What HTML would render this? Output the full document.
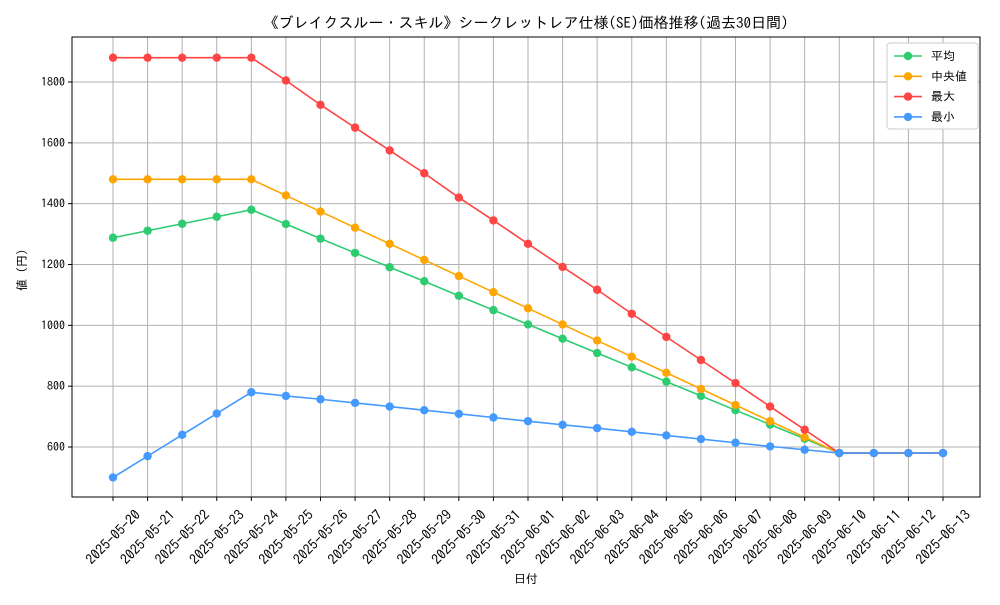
<!DOCTYPE html>
<html><head><meta charset="utf-8"><style>
body{margin:0;background:#fff;}
svg{font-family:"IPAGothic","Noto Sans CJK JP",sans-serif;}
</style></head><body>
<svg id="chart" width="1000" height="600">
<rect width="1000" height="600" fill="#fff"/>
<text x="526" y="28" text-anchor="middle" font-size="15">《ブレイクスルー・スキル》シークレットレア仕様(SE)価格推移(過去30日間)</text>
<g id="grid"></g><g id="axes"></g><g id="series"></g>
<rect x="72" y="37" width="908" height="460" fill="none" stroke="#000" stroke-width="1"/>
<text x="526" y="583" text-anchor="middle" font-size="12">日付</text>
<text x="26" y="267" text-anchor="middle" font-size="12" transform="rotate(-90 26 267)">値（円）</text>
<g id="legend"></g>
</svg>
<script>
const dates=["2025-05-20","2025-05-21","2025-05-22","2025-05-23","2025-05-24","2025-05-25","2025-05-26","2025-05-27","2025-05-28","2025-05-29","2025-05-30","2025-05-31","2025-06-01","2025-06-02","2025-06-03","2025-06-04","2025-06-05","2025-06-06","2025-06-07","2025-06-08","2025-06-09","2025-06-10","2025-06-11","2025-06-12","2025-06-13"];
const avgVals=[1288,1311,1334,1357,1380,1333,1285,1238,1191,1145,1097,1050,1003,956,909,862,815,768,721,674,627,580,580,580,580];
const medVals=[1480,1480,1480,1480,1480,1427,1374,1321,1268,1215,1162,1109,1056,1003,950,897,844,791,738,685,632,580,580,580,580];
const maxVals=[1880,1880,1880,1880,1880,1805,1725,1650,1575,1500,1420,1345,1268,1192,1117,1038,962,886,810,733,657,580,580,580,580];
const minVals=[500,570,640,710,780,768,757,745,733,721,709,697,685,673,662,650,638,626,614,602,591,580,580,580,580];
const yTicks=[600,800,1000,1200,1400,1600,1800];
const seriesNames=["平均","中央値","最大","最小"];
const NS="http://www.w3.org/2000/svg";
const x=i=>113+i*(943-113)/(dates.length-1);
const y=v=>447-(v-600)*(447-82)/1200;
function mk(t,a,p){const e=document.createElementNS(NS,t);for(const k in a)e.setAttribute(k,a[k]);p.appendChild(e);return e;}
const grid=document.getElementById('grid'),axes=document.getElementById('axes'),ser=document.getElementById('series'),leg=document.getElementById('legend');
dates.forEach((d,i)=>{
 const l=mk('line',{x1:x(i),x2:x(i),y1:37,y2:497,stroke:'#b0b0b0','stroke-width':1},grid);
 
 mk('line',{x1:x(i),x2:x(i),y1:497,y2:501,stroke:'#000'},axes);
 const cx=x(i),cy=537;
 const t=mk('text',{x:cx,y:cy+5,'font-size':14,'text-anchor':'middle',transform:`rotate(-45 ${cx} ${cy})`},axes);
 t.textContent=d;
 
});
yTicks.forEach(v=>{
 const l=mk('line',{x1:72,x2:980,y1:y(v),y2:y(v),stroke:'#b0b0b0','stroke-width':1},grid);
 
 mk('line',{x1:68,x2:72,y1:y(v),y2:y(v),stroke:'#000'},axes);
 const t=mk('text',{x:65,y:y(v)+4,'font-size':12,'text-anchor':'end'},axes);
 t.textContent=v;
 
});
const all=[avgVals,medVals,maxVals,minVals],cols=["#2ecc71","#ffa500","#ff4444","#4499ff"],keys=["avg","median","max","min"];
all.forEach((vals,s)=>{
 const g=mk('g',{},ser);
 
 const p=mk('polyline',{points:vals.map((v,i)=>x(i)+','+y(v)).join(' '),fill:'none',stroke:cols[s],'stroke-width':1.6},g);
 
 vals.forEach((v,i)=>{const c=mk('circle',{cx:x(i),cy:y(v),r:4.2,fill:cols[s]},g);
  });
});
mk('rect',{x:887,y:43,width:91,height:86,rx:3,fill:'#fff',stroke:'#ccc'},leg);
seriesNames.forEach((n,s)=>{
 const yy=56+s*20.3;
 const g=mk('g',{},leg);
 
 mk('line',{x1:894,x2:922,y1:yy,y2:yy,stroke:cols[s],'stroke-width':1.6},g);
 mk('circle',{cx:908,cy:yy,r:4.2,fill:cols[s]},g);
 const t=mk('text',{x:931,y:yy+4,'font-size':12},g);t.textContent=n;
});
</script>
</body></html>
